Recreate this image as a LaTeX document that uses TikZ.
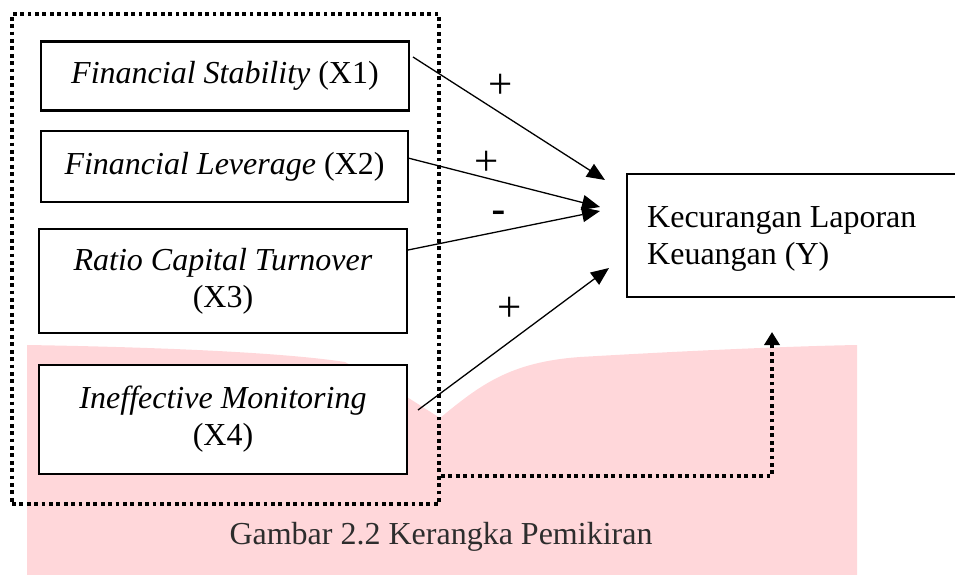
\documentclass[tikz,border=0pt]{standalone}
\usepackage{fontspec}
\setmainfont{Liberation Serif}
\newfontfamily\signsans{Liberation Sans}
\usetikzlibrary{arrows.meta}
\definecolor{pinkbg}{RGB}{255,215,218}
\definecolor{captiongray}{RGB}{45,45,45}
\tikzset{
  varbox/.style={draw=black, fill=white, line width=2.4pt, inner sep=0pt, align=center, font=\fontsize{32}{37}\selectfont},
  grpbox/.style={draw=black, line width=3.8pt, dash pattern=on 3.8pt off 3.6pt, inner sep=0pt},
  rel/.style={draw=black, line width=1.3pt, -{Triangle[length=18pt,width=15pt]}},
  dotlink/.style={draw=black, line width=3.8pt, dash pattern=on 3.8pt off 3.6pt, -{Triangle[length=13pt,width=15pt]}},
  plussign/.style={font=\fontsize{43}{45}\selectfont, inner sep=0pt},
  minussign/.style={font=\signsans\fontsize{44}{46}\selectfont, inner sep=0pt}
}
\begin{document}
\begin{tikzpicture}[x=1pt,y=-1pt]
\useasboundingbox (0,0) rectangle (955,575);
\clip (0,0) rectangle (955,575);
% pink background
\fill[pinkbg] (27,575) -- (27,345) .. controls (150,347) and (280,352) .. (345,362)
  -- (407,397) -- (440,418) .. controls (480,385) and (510,362) .. (580,357)
  .. controls (700,350) and (800,346) .. (857,345) -- (857,575) -- cycle;
% group box
\node[grpbox, minimum width=427pt, minimum height=490pt] (grp) at (225.5,259) {};
% variable boxes
\node[varbox, minimum width=368pt, minimum height=69pt] (x1) at (225,76) {\textit{Financial Stability} (X1)};
\node[varbox, minimum width=367pt, minimum height=71pt] (x2) at (224.5,166.5) {\textit{Financial Leverage} (X2)};
\node[varbox, minimum width=368pt, minimum height=104pt] (x3) at (223,281) {\textit{Ratio Capital Turnover}\\(X3)};
\node[varbox, minimum width=368pt, minimum height=109pt] (x4) at (223,419.5) {\textit{Ineffective Monitoring}\\(X4)};
\node[draw=black, line width=2.4pt, fill=white, anchor=west, minimum width=360pt, minimum height=123pt] (y) at (626,235.5) {};
\node[anchor=west, inner sep=0pt, align=left, font=\fontsize{32}{37}\selectfont] (ytext) at (647,239) {Kecurangan Laporan\\Keuangan (Y)};
% connector end points
\coordinate (s1) at (413,57);
\coordinate (e1) at (605,180);
\coordinate (s2) at (408,158);
\coordinate (e2) at (600,207);
\coordinate (s3) at (408,250);
\coordinate (e3) at (600,211);
\coordinate (s4) at (418,410);
\coordinate (e4) at (609,268);
\coordinate (d1) at (grp.east |- 0,476);
\coordinate (d2) at (772,476);
\coordinate (d3) at (772,332);
% relations
\draw[rel] (s1) -- (e1);
\draw[rel] (s2) -- (e2);
\draw[rel] (s3) -- (e3);
\draw[rel] (s4) -- (e4);
\draw[dotlink] (d1) -- (d2) -- (d3);
% signs
\node[plussign] (p1) at (500.5,86) {+};
\node[plussign] (p2) at (487,163) {+};
\node[minussign] (m3) at (498.5,218) {-};
\node[plussign] (p4) at (510,309) {+};
% caption
\node[text=captiongray, font=\fontsize{32}{34}\selectfont, inner sep=0pt] (cap) at (441,537) {Gambar 2.2 Kerangka Pemikiran};
\end{tikzpicture}
\end{document}
